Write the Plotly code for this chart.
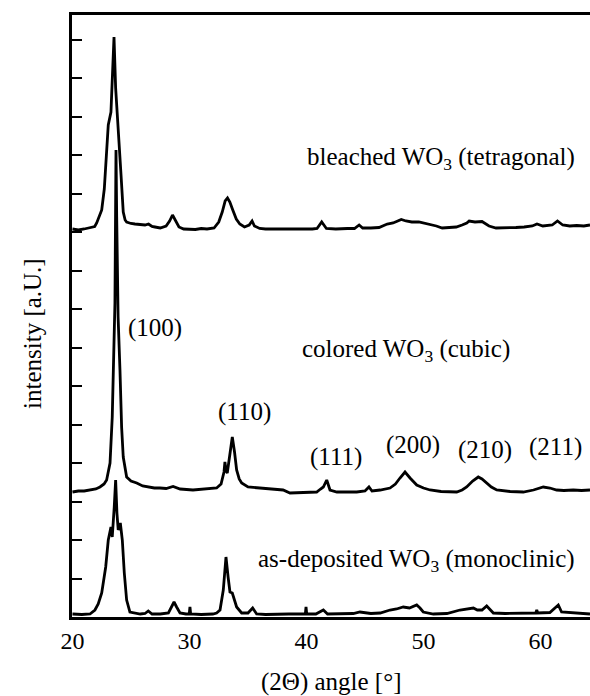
import plotly.graph_objects as go

# 2-theta angle [deg] and intensity [a.U.] (stacked patterns, offsets included)
bleached_x = [20.0, 20.5, 21.0, 21.5, 21.9, 22.07, 22.3, 22.5, 22.72, 22.92, 23.06, 23.29, 23.42, 23.55,
              23.69, 23.91, 24.15, 24.34, 24.5, 24.63, 25.0, 25.34, 25.8, 26.2, 26.5, 26.8, 27.05, 27.5,
              28.0, 28.3, 28.55, 28.8, 29.1, 29.5, 30.0, 30.5, 31.0, 31.5, 32.1, 32.5, 32.8, 33.05, 33.25,
              33.45, 33.7, 34.0, 34.3, 34.7, 35.1, 35.35, 35.55, 36.0, 36.5, 37.5, 38.5, 39.5, 40.5, 40.9,
              41.3, 41.7, 42.5, 43.5, 44.1, 44.5, 44.8, 45.5, 46.2, 46.9, 47.4, 47.7, 48.1, 48.5, 49.0,
              49.6, 50.25, 50.7, 51.1, 51.6, 52.2, 52.8, 53.3, 53.7, 53.9, 54.4, 55.0, 55.3, 55.6, 56.2,
              57.0, 57.9, 58.6, 59.3, 59.7, 60.2, 61.0, 61.45, 61.9, 62.5, 63.1, 63.7, 64.23]
bleached_y = [388, 387, 388, 389, 390.5, 394, 400, 407, 428, 462, 492, 505, 545, 580,
              529, 492, 442, 405, 397, 395, 393.5, 393, 392.5, 392, 393, 390.5, 390, 389,
              391, 396, 402, 396, 390, 388, 388, 387.5, 388.5, 388, 389, 395, 405, 416, 419,
              415, 407, 398, 393, 390, 392, 396, 391, 388.5, 388, 388, 387.5, 388, 388, 388.5,
              395, 388.5, 388, 388.5, 388.5, 392, 389, 389, 389.5, 393, 394, 395.5, 397.5, 396, 395,
              395, 393.5, 392.5, 391, 389, 389.5, 390, 392, 394, 396, 395, 395.5, 393.5, 391, 389,
              389, 389.5, 390, 391, 393, 391, 392, 396, 392, 391, 391.5, 391, 392]

colored_x = [20.0, 20.5, 21.0, 21.5, 22.0, 22.35, 22.7, 22.92, 23.21, 23.4, 23.49, 23.63, 23.68, 23.72,
             23.78, 23.9, 24.06, 24.2, 24.34, 24.63, 25.0, 25.49, 26.0, 26.5, 27.0, 27.48, 28.0, 28.6,
             29.2, 30.3, 31.0, 31.7, 32.32, 32.7, 32.95, 33.03, 33.13, 33.23, 33.45, 33.66, 33.85, 34.03,
             34.25, 34.46, 35.0, 36.03, 37.0, 38.0, 38.59, 39.5, 40.3, 40.87, 41.2, 41.44, 41.73, 42.01,
             42.6, 43.5, 44.29, 45.0, 45.34, 45.6, 46.3, 47.14, 47.6, 47.99, 48.42, 48.85, 49.42, 50.0,
             50.56, 51.5, 52.84, 53.3, 53.69, 54.2, 54.68, 55.0, 55.4, 55.8, 56.26, 57.4, 58.53, 59.4,
             60.24, 60.8, 61.38, 62.0, 62.8, 63.5, 64.23]
colored_y = [125, 126, 126, 127, 128, 130, 133, 137, 154, 200, 247, 314, 400, 467,
             400, 300, 247, 190, 160, 140, 136, 134, 131, 130, 129, 129, 128.5, 130.5,
             128, 127, 127.5, 128, 129, 133, 145, 155, 146, 144, 165, 180, 165, 147,
             138, 134, 130, 129, 128, 127, 124, 124.5, 125, 125, 128, 130, 137, 127,
             125, 125, 125, 126, 130, 126, 127, 129, 133, 139, 145, 139, 132, 129,
             127, 125.5, 125, 127, 130, 136, 140, 138, 134, 130, 127, 125.5, 125, 127,
             130, 129, 127, 126.5, 127, 126.5, 127]

asdep_x = [20.0, 20.8, 21.5, 21.92, 22.2, 22.5, 22.84, 23.06, 23.29, 23.4, 23.57, 23.69, 23.8, 23.91,
           24.09, 24.26, 24.43, 24.63, 24.91, 25.34, 25.8, 26.2, 26.48, 26.8, 27.5, 28.2, 28.68, 28.9,
           29.19, 29.7, 29.98, 30.04, 30.1, 31.0, 32.0, 32.32, 32.61, 32.89, 33.12, 33.3, 33.46, 33.66,
           33.85, 34.03, 34.46, 35.0, 35.4, 35.74, 36.5, 37.5, 38.5, 39.5, 39.9, 39.96, 40.02, 40.8,
           41.44, 41.8, 43.0, 44.0, 44.57, 45.5, 46.3, 47.14, 47.7, 48.27, 48.8, 49.42, 49.7, 49.98,
           50.84, 52.0, 53.12, 53.7, 54.26, 54.6, 55.0, 55.4, 55.97, 57.0, 58.5, 59.6, 59.68, 59.76,
           60.8, 61.52, 61.8, 62.8, 63.7, 64.23]
asdep_y = [3, 2.5, 3, 7, 13, 24, 50, 77, 90, 80, 110, 137, 104, 87,
           94, 77, 44, 17, 5, 4, 3, 3.5, 6, 3, 3, 4, 15, 10,
           4, 3, 3, 10, 3, 2.5, 3, 4, 7, 27, 60, 40, 25, 24,
           16, 10, 4, 4, 9, 3, 2.5, 3, 3, 3, 3, 10, 3, 3,
           7, 3, 3, 3.5, 5, 3.5, 4, 7, 8, 10, 9, 12, 9, 5,
           3, 3.5, 7, 8, 9, 7, 7, 11, 4, 3.5, 4, 4, 7, 4,
           4.5, 12, 5, 4, 3.5, 3]

x_ticks = [20, 30, 40, 50, 60]
y_ticks = [38.5 * k for k in range(16)]

series_labels = ["bleached WO<sub>3</sub> (tetragonal)", "colored WO<sub>3</sub> (cubic)",
                 "as-deposited WO<sub>3</sub> (monoclinic)"]
hkl_labels = ["(100)", "(110)", "(111)", "(200)", "(210)", "(211)"]
hkl_x = [27.09, 34.70, 42.48, 49.06, 55.26, 61.28]
hkl_y = [289, 205, 160, 172, 167, 170]

FONT = "Liberation Serif"

fig = go.Figure()
for xs, ys in [(bleached_x, bleached_y), (colored_x, colored_y), (asdep_x, asdep_y)]:
    fig.add_trace(go.Scatter(x=xs, y=ys, mode="lines",
                             line=dict(color="black", width=2.8), showlegend=False,
                             hoverinfo="skip"))

annotations = []
annotations.append(dict(x=63.12, y=459, xref="x", yref="y", text=series_labels[0],
                        xanchor="right", yanchor="middle", showarrow=False))
annotations.append(dict(x=39.44, y=267, xref="x", yref="y", text=series_labels[1],
                        xanchor="left", yanchor="middle", showarrow=False))
annotations.append(dict(x=63.12, y=57, xref="x", yref="y", text=series_labels[2],
                        xanchor="right", yanchor="middle", showarrow=False))
for t, hx, hy in zip(hkl_labels, hkl_x, hkl_y):
    annotations.append(dict(x=hx, y=hy, xref="x", yref="y", text=t,
                            xanchor="center", yanchor="middle", showarrow=False))
annotations.append(dict(x=0.5, y=-0.108, xref="paper", yref="paper", text="(2Θ) angle [°]",
                        xanchor="center", yanchor="middle", showarrow=False))
annotations.append(dict(x=-0.0753, y=0.4718, xref="paper", yref="paper", text="intensity [a.U.]",
                        textangle=-90, xanchor="center", yanchor="middle", showarrow=False))
for a in annotations:
    a["font"] = dict(family=FONT, size=25, color="black")

fig.update_layout(
    width=590, height=696,
    margin=dict(l=72, r=0, t=15, b=79, pad=0),
    paper_bgcolor="white", plot_bgcolor="white",
    annotations=annotations,
    xaxis=dict(range=[19.96, 64.23], tickvals=x_ticks, ticktext=[str(v) for v in x_ticks],
               ticks="", showgrid=False, zeroline=False,
               showline=True, linecolor="black", linewidth=3, mirror=True,
               tickfont=dict(family=FONT, size=24, color="black")),
    yaxis=dict(range=[0, 602], tickvals=y_ticks, showticklabels=False,
               ticks="inside", ticklen=10, tickwidth=2, tickcolor="black",
               showgrid=False, zeroline=False,
               showline=True, linecolor="black", linewidth=2.5, mirror=False),
)

fig.write_html("out.html")
